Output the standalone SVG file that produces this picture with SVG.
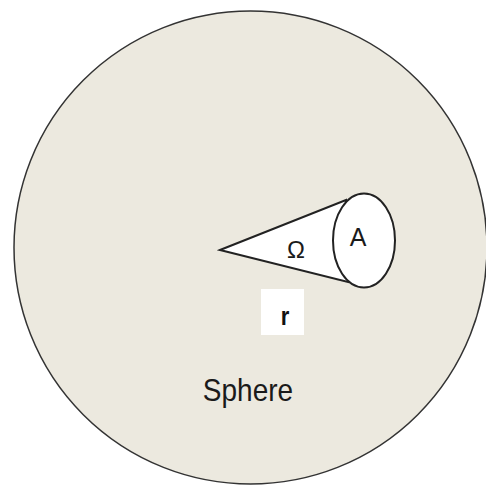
<svg xmlns="http://www.w3.org/2000/svg" width="486" height="486" viewBox="0 0 486 486">
<style>
.ln{stroke:#222;stroke-width:2;fill:#fff}
.t{font-family:"Liberation Sans",Arial,sans-serif;fill:#1a1a1a}
</style>
<rect width="486" height="486" fill="#fff"/>
<g id="sphere">
<circle cx="250.5" cy="247.5" r="236.5" fill="#ECE9DF" stroke="#333" stroke-width="1.5"/>
<text class="t" x="248" y="0" font-size="28" text-anchor="middle" transform="translate(0,401) scale(1,1.12)">Sphere</text>
</g>
<g id="cone">
<polygon class="ln" points="220,250 346,200 348,282" stroke-linejoin="miter"/>
<text class="t" x="296" y="258" font-size="24" text-anchor="middle">Ω</text>
</g>
<g id="area">
<ellipse class="ln" cx="364" cy="240.5" rx="31" ry="47"/>
<text class="t" x="358" y="246" font-size="25" text-anchor="middle">A</text>
</g>
<g id="radius">
<rect x="261" y="289" width="43" height="46" fill="#fff"/>
<text x="285" y="0" font-size="22" text-anchor="middle" font-family="'Liberation Sans',Arial,sans-serif" font-weight="bold" fill="#111" transform="translate(0,325) scale(1,1.2)">r</text>
</g>
</svg>
